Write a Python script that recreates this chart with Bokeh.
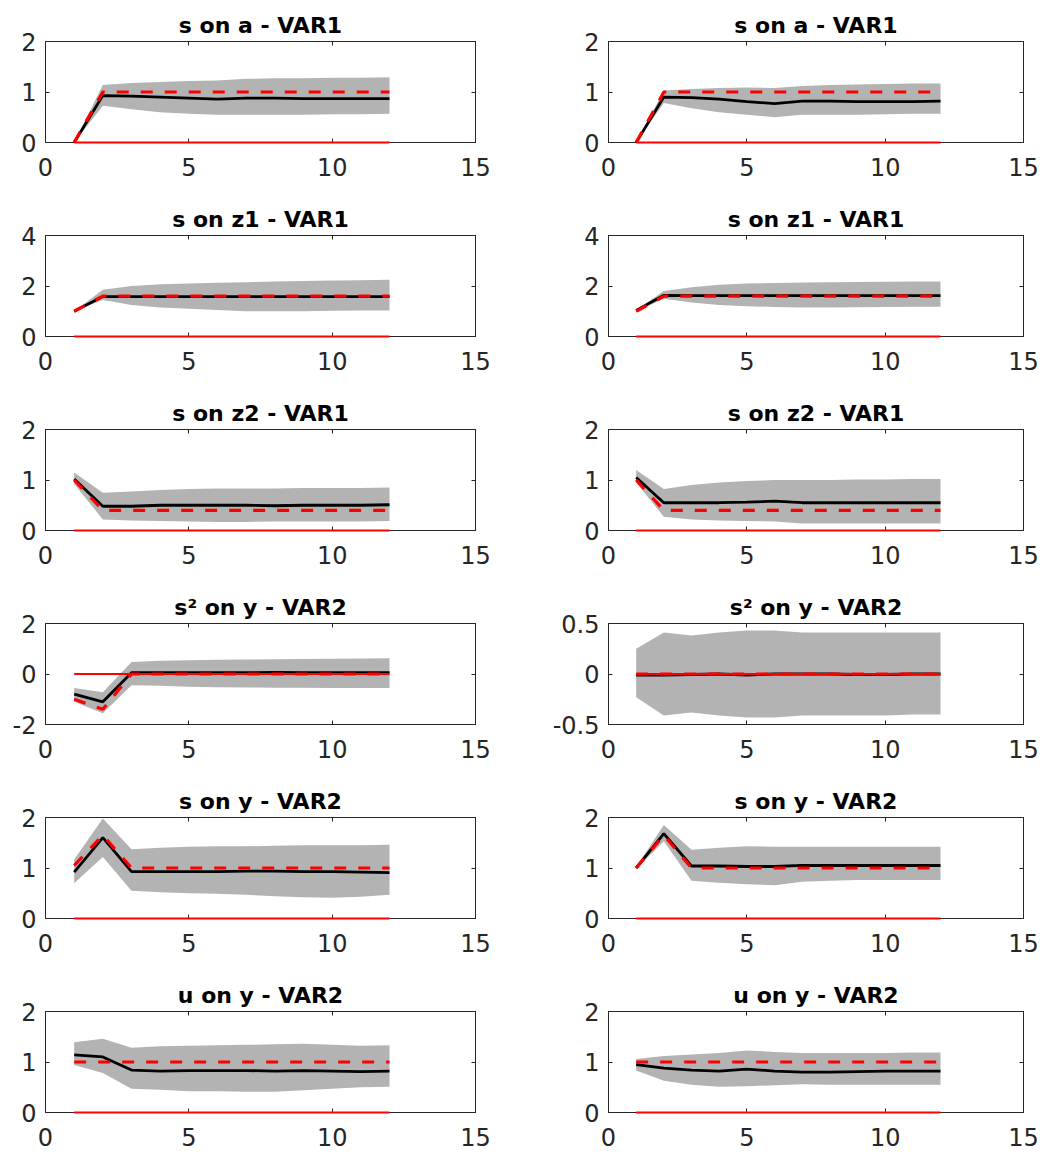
from bokeh.plotting import figure
from bokeh.layouts import gridplot
from bokeh.models import Range1d, FixedTicker, LinearAxis
from bokeh.embed import file_html
from bokeh.resources import INLINE

horizon = [1, 2, 3, 4, 5, 6, 7, 8, 9, 10, 11, 12]
zero_line = [0, 0, 0, 0, 0, 0, 0, 0, 0, 0, 0, 0]
x_ticks = [0, 5, 10, 15]

# ---- row 1: s on a - VAR1
a_left_med = [0.00, 0.93, 0.92, 0.90, 0.88, 0.86, 0.88, 0.88, 0.87, 0.87, 0.87, 0.87]
a_left_true = [0.00, 1.00, 1.00, 1.00, 1.00, 1.00, 1.00, 1.00, 1.00, 1.00, 1.00, 1.00]
a_left_lo = [0.00, 0.73, 0.66, 0.60, 0.57, 0.55, 0.55, 0.55, 0.55, 0.56, 0.56, 0.57]
a_left_hi = [0.00, 1.14, 1.18, 1.20, 1.22, 1.23, 1.26, 1.27, 1.27, 1.28, 1.28, 1.29]

a_right_med = [0.00, 0.90, 0.89, 0.86, 0.81, 0.77, 0.82, 0.82, 0.81, 0.81, 0.81, 0.82]
a_right_true = [0.00, 1.00, 1.00, 1.00, 1.00, 1.00, 1.00, 1.00, 1.00, 1.00, 1.00, 1.00]
a_right_lo = [0.00, 0.78, 0.68, 0.60, 0.55, 0.50, 0.55, 0.55, 0.55, 0.56, 0.57, 0.57]
a_right_hi = [0.00, 1.03, 1.06, 1.08, 1.09, 1.08, 1.12, 1.14, 1.15, 1.16, 1.17, 1.17]

# ---- row 2: s on z1 - VAR1
z1_left_med = [1.00, 1.58, 1.58, 1.58, 1.58, 1.58, 1.58, 1.58, 1.58, 1.58, 1.58, 1.58]
z1_left_true = [1.00, 1.60, 1.60, 1.60, 1.60, 1.60, 1.60, 1.60, 1.60, 1.60, 1.60, 1.60]
z1_left_lo = [1.00, 1.45, 1.25, 1.15, 1.10, 1.05, 1.00, 1.00, 1.00, 1.02, 1.03, 1.03]
z1_left_hi = [1.00, 1.85, 2.00, 2.07, 2.10, 2.13, 2.15, 2.18, 2.20, 2.22, 2.23, 2.25]

z1_right_med = [1.03, 1.63, 1.62, 1.62, 1.62, 1.62, 1.62, 1.62, 1.62, 1.62, 1.62, 1.62]
z1_right_true = [1.00, 1.60, 1.60, 1.60, 1.60, 1.60, 1.60, 1.60, 1.60, 1.60, 1.60, 1.60]
z1_right_lo = [1.00, 1.50, 1.35, 1.25, 1.20, 1.17, 1.15, 1.15, 1.16, 1.17, 1.18, 1.18]
z1_right_hi = [1.05, 1.80, 1.95, 2.05, 2.10, 2.12, 2.14, 2.15, 2.16, 2.17, 2.18, 2.18]

# ---- row 3: s on z2 - VAR1
z2_left_med = [1.02, 0.48, 0.48, 0.50, 0.50, 0.50, 0.50, 0.49, 0.50, 0.50, 0.50, 0.51]
z2_left_true = [1.00, 0.40, 0.40, 0.40, 0.40, 0.40, 0.40, 0.40, 0.40, 0.40, 0.40, 0.40]
z2_left_lo = [0.92, 0.22, 0.20, 0.19, 0.18, 0.17, 0.17, 0.18, 0.18, 0.18, 0.18, 0.19]
z2_left_hi = [1.15, 0.75, 0.77, 0.80, 0.82, 0.83, 0.83, 0.83, 0.84, 0.84, 0.84, 0.85]

z2_right_med = [1.05, 0.55, 0.55, 0.55, 0.56, 0.58, 0.55, 0.55, 0.55, 0.55, 0.55, 0.55]
z2_right_true = [1.00, 0.40, 0.40, 0.40, 0.40, 0.40, 0.40, 0.40, 0.40, 0.40, 0.40, 0.40]
z2_right_lo = [0.95, 0.27, 0.22, 0.20, 0.19, 0.18, 0.14, 0.14, 0.14, 0.14, 0.14, 0.14]
z2_right_hi = [1.20, 0.82, 0.90, 0.95, 0.98, 1.00, 1.00, 1.00, 1.01, 1.01, 1.02, 1.02]

# ---- row 4: s^2 on y - VAR2
s2_left_med = [-0.80, -1.10, 0.05, 0.05, 0.05, 0.05, 0.05, 0.06, 0.05, 0.05, 0.05, 0.05]
s2_left_true = [-1.00, -1.40, 0.00, 0.00, 0.00, 0.00, 0.00, 0.00, 0.00, 0.00, 0.00, 0.00]
s2_left_lo = [-1.10, -1.55, -0.45, -0.47, -0.50, -0.52, -0.53, -0.54, -0.54, -0.55, -0.55, -0.55]
s2_left_hi = [-0.55, -0.72, 0.48, 0.52, 0.54, 0.56, 0.57, 0.58, 0.59, 0.60, 0.61, 0.62]

s2_right_med = [-0.01, -0.01, -0.005, 0.00, -0.01, 0.00, 0.00, 0.00, -0.005, -0.005, 0.00, 0.00]
s2_right_true = [0.00, 0.00, 0.00, 0.00, 0.00, 0.00, 0.00, 0.00, 0.00, 0.00, 0.00, 0.00]
s2_right_lo = [-0.23, -0.41, -0.38, -0.41, -0.43, -0.43, -0.41, -0.41, -0.41, -0.41, -0.40, -0.40]
s2_right_hi = [0.25, 0.41, 0.38, 0.41, 0.43, 0.43, 0.41, 0.41, 0.41, 0.41, 0.41, 0.41]

# ---- row 5: s on y - VAR2
sy_left_med = [0.92, 1.60, 0.93, 0.93, 0.93, 0.93, 0.94, 0.94, 0.93, 0.93, 0.92, 0.91]
sy_left_true = [1.05, 1.65, 1.00, 1.00, 1.00, 1.00, 1.00, 1.00, 1.00, 1.00, 1.00, 1.00]
sy_left_lo = [0.70, 1.22, 0.55, 0.52, 0.50, 0.49, 0.47, 0.44, 0.42, 0.41, 0.43, 0.47]
sy_left_hi = [1.17, 1.98, 1.37, 1.40, 1.42, 1.43, 1.43, 1.44, 1.45, 1.45, 1.45, 1.46]

sy_right_med = [1.00, 1.68, 1.04, 1.04, 1.03, 1.03, 1.05, 1.05, 1.05, 1.05, 1.05, 1.05]
sy_right_true = [1.00, 1.65, 1.00, 1.00, 1.00, 1.00, 1.00, 1.00, 1.00, 1.00, 1.00, 1.00]
sy_right_lo = [0.98, 1.53, 0.75, 0.71, 0.68, 0.66, 0.73, 0.75, 0.76, 0.76, 0.76, 0.76]
sy_right_hi = [1.02, 1.85, 1.36, 1.40, 1.43, 1.42, 1.42, 1.42, 1.42, 1.42, 1.42, 1.42]

# ---- row 6: u on y - VAR2
uy_left_med = [1.14, 1.10, 0.84, 0.82, 0.83, 0.83, 0.83, 0.82, 0.83, 0.82, 0.81, 0.82]
uy_left_true = [1.00, 1.00, 1.00, 1.00, 1.00, 1.00, 1.00, 1.00, 1.00, 1.00, 1.00, 1.00]
uy_left_lo = [0.94, 0.78, 0.47, 0.45, 0.42, 0.42, 0.41, 0.41, 0.44, 0.47, 0.50, 0.51]
uy_left_hi = [1.39, 1.46, 1.28, 1.31, 1.32, 1.33, 1.34, 1.35, 1.36, 1.34, 1.32, 1.33]

uy_right_med = [0.95, 0.88, 0.84, 0.82, 0.86, 0.82, 0.80, 0.80, 0.81, 0.82, 0.82, 0.82]
uy_right_true = [1.00, 1.00, 1.00, 1.00, 1.00, 1.00, 1.00, 1.00, 1.00, 1.00, 1.00, 1.00]
uy_right_lo = [0.83, 0.63, 0.55, 0.51, 0.52, 0.54, 0.56, 0.55, 0.55, 0.55, 0.55, 0.55]
uy_right_hi = [1.06, 1.12, 1.15, 1.18, 1.23, 1.20, 1.18, 1.18, 1.18, 1.18, 1.19, 1.19]

titles = ["s on a - VAR1", "s on z1 - VAR1", "s on z2 - VAR1",
          "s\u00b2 on y - VAR2", "s on y - VAR2", "u on y - VAR2"]
y_limits_left = [(0, 2), (0, 4), (0, 2), (-2, 2), (0, 2), (0, 2)]
y_limits_right = [(0, 2), (0, 4), (0, 2), (-0.5, 0.5), (0, 2), (0, 2)]
y_ticks_left = [[0, 1, 2], [0, 2, 4], [0, 1, 2], [-2, 0, 2], [0, 1, 2], [0, 1, 2]]
y_ticks_right = [[0, 1, 2], [0, 2, 4], [0, 1, 2], [-0.5, 0, 0.5], [0, 1, 2], [0, 1, 2]]
y_labels_left = [["0", "1", "2"], ["0", "2", "4"], ["0", "1", "2"], ["-2", "0", "2"],
                 ["0", "1", "2"], ["0", "1", "2"]]
y_labels_right = [["0", "1", "2"], ["0", "2", "4"], ["0", "1", "2"], ["-0.5", "0", "0.5"],
                  ["0", "1", "2"], ["0", "1", "2"]]

left_series = [
    (a_left_med, a_left_true, a_left_lo, a_left_hi),
    (z1_left_med, z1_left_true, z1_left_lo, z1_left_hi),
    (z2_left_med, z2_left_true, z2_left_lo, z2_left_hi),
    (s2_left_med, s2_left_true, s2_left_lo, s2_left_hi),
    (sy_left_med, sy_left_true, sy_left_lo, sy_left_hi),
    (uy_left_med, uy_left_true, uy_left_lo, uy_left_hi),
]
right_series = [
    (a_right_med, a_right_true, a_right_lo, a_right_hi),
    (z1_right_med, z1_right_true, z1_right_lo, z1_right_hi),
    (z2_right_med, z2_right_true, z2_right_lo, z2_right_hi),
    (s2_right_med, s2_right_true, s2_right_lo, s2_right_hi),
    (sy_right_med, sy_right_true, sy_right_lo, sy_right_hi),
    (uy_right_med, uy_right_true, uy_right_lo, uy_right_hi),
]

FONT = "DejaVu Sans"
AX_COLOR = "#262626"


def style_axis(ax, show_labels, standoff):
    ax.axis_line_color = AX_COLOR
    ax.axis_line_width = 1
    ax.major_tick_line_color = AX_COLOR
    ax.major_tick_in = 4
    ax.major_tick_out = 0
    ax.minor_tick_line_color = None
    ax.major_label_text_font = FONT
    if show_labels:
        ax.major_label_text_color = AX_COLOR
        ax.major_label_text_font_size = "24px"
        ax.major_label_standoff = standoff
    else:
        ax.major_label_text_color = None
        ax.major_label_text_font_size = "1px"
        ax.major_label_standoff = 0


def make_panel(title, ylim, yticks, ylabels, series, left_col, last_row):
    med, true, lo, hi = series
    p = figure(
        frame_width=430 if left_col else 415,
        frame_height=101,
        x_range=Range1d(0, 15), y_range=Range1d(*ylim),
        x_axis_type=None, y_axis_type=None,
        output_backend="svg", toolbar_location=None,
        min_border_left=45 if left_col else 78,
        min_border_right=55 if left_col else 38,
        min_border_top=41,
        min_border_bottom=40 if last_row else 52,
        background_fill_color="white", border_fill_color="white",
        outline_line_color=AX_COLOR,
    )
    p.title.text = title
    p.title.text_font = FONT
    p.title.text_font_style = "bold"
    p.title.text_font_size = "22px"
    p.title.text_color = "black"
    p.title.align = "center"
    p.title.standoff = 8

    xt = FixedTicker(ticks=x_ticks)
    yt = FixedTicker(ticks=yticks)
    bottom = LinearAxis(ticker=xt)
    style_axis(bottom, True, 15)
    p.add_layout(bottom, "below")
    left = LinearAxis(ticker=yt)
    style_axis(left, True, 9)
    left.major_label_overrides = {t: s for t, s in zip(yticks, ylabels)}
    p.add_layout(left, "left")
    top = LinearAxis(ticker=xt)
    style_axis(top, False, 0)
    p.add_layout(top, "above")
    right = LinearAxis(ticker=yt)
    style_axis(right, False, 0)
    p.add_layout(right, "right")

    p.varea(x=horizon, y1=lo, y2=hi, fill_color="#b3b3b3", fill_alpha=1.0)
    p.line(horizon, med, line_color="black", line_width=2.8)
    p.line(horizon, true, line_color="#ff0000", line_width=3.2, line_dash="12 12")
    p.line(horizon, zero_line, line_color="#ff0000", line_width=2, level="overlay")
    return p


rows = []
for i in range(6):
    last = i == 5
    pl = make_panel(titles[i], y_limits_left[i], y_ticks_left[i], y_labels_left[i],
                    left_series[i], True, last)
    pr = make_panel(titles[i], y_limits_right[i], y_ticks_right[i], y_labels_right[i],
                    right_series[i], False, last)
    rows.append([pl, pr])

grid = gridplot(rows, toolbar_location=None)

open("out.html", "w").write(file_html(grid, INLINE))
